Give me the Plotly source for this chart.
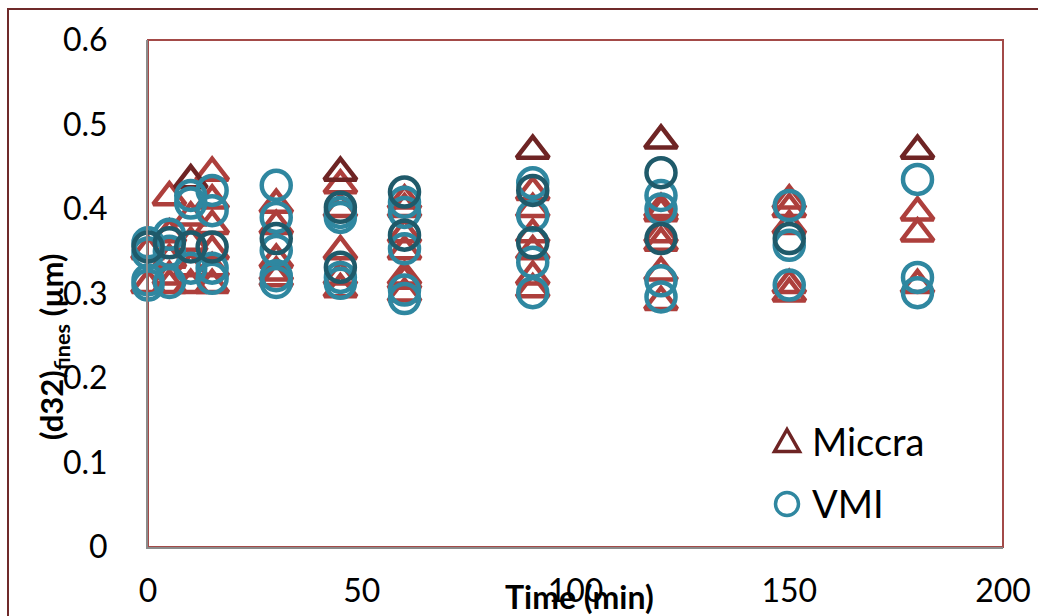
import plotly.graph_objects as go

# Sampling times (min) and measured (d32) of fines (µm) per run
miccra_dark_t = [10, 45, 90, 120, 180]
miccra_dark_v = [0.434, 0.443, 0.469, 0.481, 0.469]

miccra_t = [0, 0,
            5, 5, 5, 5, 5,
            10, 10, 10, 10,
            15, 15, 15, 15, 15, 15,
            30, 30, 30, 30, 30,
            45, 45, 45, 45, 45,
            60, 60, 60, 60, 60, 60, 60,
            90, 90, 90, 90, 90, 90,
            120, 120, 120, 120, 120, 120,
            150, 150, 150, 150, 150,
            180, 180, 180]
miccra_v = [0.35, 0.31,
            0.414, 0.37, 0.34, 0.32, 0.31,
            0.39, 0.36, 0.33, 0.31,
            0.443, 0.41, 0.38, 0.35, 0.33, 0.31,
            0.405, 0.38, 0.34, 0.325, 0.318,
            0.428, 0.40, 0.35, 0.32, 0.305,
            0.41, 0.40, 0.37, 0.35, 0.32, 0.315, 0.30,
            0.42, 0.40, 0.37, 0.35, 0.32, 0.305,
            0.40, 0.395, 0.37, 0.36, 0.325, 0.29,
            0.41, 0.40, 0.38, 0.31, 0.30,
            0.396, 0.371, 0.31]

vmi_t = [0, 0, 0, 0,
         5, 5, 5,
         10, 10, 10,
         15, 15, 15, 15,
         30, 30, 30, 30, 30,
         45, 45, 45, 45,
         60, 60, 60, 60, 60,
         90, 90, 90, 90,
         120, 120, 120, 120,
         150, 150, 150,
         180, 180, 180]
vmi_v = [0.36, 0.348, 0.316, 0.31,
         0.37, 0.35, 0.313,
         0.416, 0.407, 0.33,
         0.422, 0.398, 0.33, 0.318,
         0.428, 0.39, 0.351, 0.321, 0.313,
         0.396, 0.39, 0.319, 0.312,
         0.408, 0.396, 0.353, 0.304, 0.294,
         0.431, 0.392, 0.337, 0.301,
         0.416, 0.40, 0.315, 0.296,
         0.404, 0.357, 0.31,
         0.435, 0.319, 0.301]

vmi_dark_t = [0, 5, 10, 15, 30, 45, 45, 60, 60, 90, 90, 120, 120, 150]
vmi_dark_v = [0.355, 0.36, 0.355, 0.355, 0.365, 0.402, 0.331, 0.42, 0.369,
              0.422, 0.36, 0.443, 0.365, 0.365]

x_ticks = [0, 50, 100, 150, 200]
y_ticks = [0, 0.1, 0.2, 0.3, 0.4, 0.5, 0.6]

DARK_RED = "#6e2424"
RED = "#ad3f3c"
TEAL = "#2f87a0"
DARK_TEAL = "#1f5a6a"
FONT = "Lato"

fig = go.Figure()


def add_series(t, v, symbol, color, size):
    # open symbols take their stroke colour from marker.color
    fig.add_trace(go.Scatter(
        x=t, y=v, mode="markers", showlegend=False, hoverinfo="skip",
        cliponaxis=False,
        marker=dict(symbol=symbol, size=size, color=color,
                    line=dict(color=color, width=4.5)),
    ))


add_series(miccra_t, miccra_v, "triangle-up-open", RED, 28)
add_series(miccra_dark_t, miccra_dark_v, "triangle-up-open", DARK_RED, 28)
add_series(vmi_t, vmi_v, "circle-open", TEAL, 29)
add_series(vmi_dark_t, vmi_dark_v, "circle-open", DARK_TEAL, 29)

# plot-area geometry in pixels, used for frame and legend placement
L, R, T, B = 148, 1003, 40, 547


def px(x):
    return (x - L) / (R - L)


def py(y):
    return (B - y) / (B - T)


shapes = [
    # outer chart frame
    dict(type="rect", xref="paper", yref="paper", x0=px(8), x1=px(1060),
         y0=py(640), y1=py(9), line=dict(color="#6f2a2a", width=2), layer="below"),
    # plot-area frame
    dict(type="rect", xref="paper", yref="paper", x0=0, x1=1, y0=0, y1=1,
         line=dict(color="#a34a48", width=2), layer="below"),
    # legend keys
    dict(type="path", xref="paper", yref="paper",
         path=f"M {px(787)},{py(429.5)} L {px(799.5)},{py(451.5)} L {px(774.5)},{py(451.5)} Z",
         line=dict(color=DARK_RED, width=3.5)),
    dict(type="circle", xref="paper", yref="paper",
         x0=px(775.5), x1=px(798.5), y0=py(515.5), y1=py(492.5),
         line=dict(color=TEAL, width=3.5)),
]

annotations = [
    dict(text="Miccra", xref="paper", yref="paper", x=px(810), y=py(441),
         xanchor="left", yanchor="middle", showarrow=False,
         font=dict(family=FONT, size=38, color="black")),
    dict(text="VMI", xref="paper", yref="paper", x=px(810), y=py(503),
         xanchor="left", yanchor="middle", showarrow=False,
         font=dict(family=FONT, size=38, color="black")),
    dict(text="<b>Time (min)</b>", xref="paper", yref="paper", x=px(579), y=py(596),
         xanchor="center", yanchor="middle", showarrow=False,
         font=dict(family=FONT, size=32, color="black")),
    dict(text="<b>(d32)<sub>fines</sub> (µm)</b>", xref="paper", yref="paper",
         x=px(53), y=py(347), textangle=-90, xanchor="center", yanchor="middle",
         showarrow=False, font=dict(family=FONT, size=31, color="black")),
]

fig.update_layout(
    width=1038, height=616,
    margin=dict(l=L, r=1038 - R, t=T, b=616 - B, autoexpand=False),
    paper_bgcolor="white", plot_bgcolor="white",
    showlegend=False,
    shapes=shapes, annotations=annotations,
    font=dict(family=FONT, size=32, color="black"),
    xaxis=dict(range=[0, 200], tickvals=x_ticks, ticktext=[str(v) for v in x_ticks],
               showgrid=False, zeroline=False, showline=True, linecolor="#8c8c8c",
               linewidth=2, ticks="", ticklabelstandoff=15, automargin=False,
               tickfont=dict(family=FONT, size=32, color="black")),
    yaxis=dict(range=[0, 0.6], tickvals=y_ticks, ticktext=[f"{v:g}" for v in y_ticks],
               showgrid=False, zeroline=False, showline=True, linecolor="#8c8c8c",
               linewidth=2, ticks="", ticklabelstandoff=32, automargin=False,
               tickfont=dict(family=FONT, size=32, color="black")),
)

fig.write_html("out.html")
